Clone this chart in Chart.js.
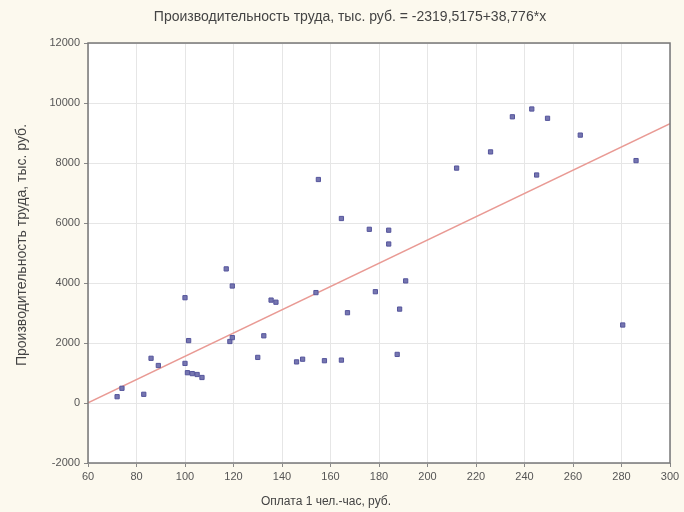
<!DOCTYPE html>
<html>
<head>
<meta charset="utf-8">
<script src="https://cdn.jsdelivr.net/npm/chart.js@4"></script>
<style>
  html, body { margin: 0; padding: 0; background: #fcf9ee; }
  #wrap { width: 684px; height: 512px; }
</style>
</head>
<body>
<div id="wrap"><canvas id="scatterChart" width="684" height="512"></canvas></div>
<script>
// Оплата 1 чел.-час, руб.
const payX = [72, 74, 83, 86, 89, 100, 101.5, 100, 101, 103, 105, 107,
    117, 119.5, 118.5, 119.5, 130, 132.5, 135.5, 137.5,
    146, 148.5, 154, 155, 157.5, 164.5, 164.5, 167, 176, 178.5, 184, 184, 187.5, 188.5, 191,
    212, 226, 235, 243, 245, 249.5, 263, 280.5, 286];
// Производительность труда, тыс. руб.
const prodY = [210, 490, 290, 1490, 1250, 3510, 2080, 1320, 1010, 980, 950, 850,
    4470, 3900, 2050, 2180, 1520, 2240, 3430, 3360,
    1370, 1460, 3680, 7450, 1410, 6150, 1430, 3010, 5790, 3710, 5760, 5300, 1620, 3130, 4070,
    7830, 8370, 9540, 9800, 7600, 9490, 8930, 2600, 8080];
const xTicks = [60, 80, 100, 120, 140, 160, 180, 200, 220, 240, 260, 280, 300];
const yTicks = [-2000, 0, 2000, 4000, 6000, 8000, 10000, 12000];
const intercept = -2319.5175;
const slope = 38.776;

const points = payX.map((x, i) => ({ x: x, y: prodY[i] }));
const fitLine = [xTicks[0], xTicks[xTicks.length - 1]].map(x => ({ x: x, y: intercept + slope * x }));

const fontFamily = '"Liberation Sans", Arial, sans-serif';

const bgPlugin = {
    id: 'bg',
    beforeDraw(chart) {
        const { ctx, chartArea: a } = chart;
        ctx.save();
        ctx.fillStyle = '#fcf9ee';
        ctx.fillRect(0, 0, chart.width, chart.height);
        ctx.fillStyle = '#ffffff';
        ctx.fillRect(a.left, a.top, a.right - a.left, a.bottom - a.top);
        ctx.fillStyle = '#444';
        ctx.textAlign = 'center';
        ctx.textBaseline = 'middle';
        ctx.font = '14px ' + fontFamily;
        ctx.fillText('Производительность труда, тыс. руб. = -2319,5175+38,776*x', 350, 17);
        ctx.font = '12px ' + fontFamily;
        ctx.fillText('Оплата 1 чел.-час, руб.', 326, 502);
        ctx.font = '14px ' + fontFamily;
        ctx.translate(22, 245);
        ctx.rotate(-Math.PI / 2);
        ctx.fillText('Производительность труда, тыс. руб.', 0, 0);
        ctx.restore();
    },
    afterDraw(chart) {
        const { ctx, chartArea: a } = chart;
        ctx.save();
        ctx.strokeStyle = '#777';
        ctx.lineWidth = 1.5;
        ctx.strokeRect(a.left, a.top, a.right - a.left, a.bottom - a.top);
        ctx.restore();
    }
};

const font = { family: fontFamily, size: 11 };

new Chart(document.getElementById('scatterChart'), {
    type: 'scatter',
    data: {
        datasets: [{
            data: fitLine,
            type: 'line',
            borderColor: '#e99a94',
            borderWidth: 1.5,
            pointRadius: 0,
            order: 2
        }, {
            data: points,
            pointStyle: 'rect',
            pointRadius: 3,
            backgroundColor: '#7676b0',
            borderColor: '#55559c',
            borderWidth: 1,
            order: 1
        }]
    },
    options: {
        responsive: false,
        animation: false,
        layout: { padding: { top: 43, right: 14, left: 0, bottom: 0 } },
        plugins: {
            legend: { display: false },
            tooltip: { enabled: false }
        },
        scales: {
            x: {
                type: 'linear',
                min: 60,
                max: 300,
                afterBuildTicks(scale) { scale.ticks = xTicks.map(v => ({ value: v })); },
                afterFit(scale) { scale.height = 49; },
                grid: { color: '#e6e6e6', tickLength: 4, tickColor: '#888' },
                border: { display: false },
                ticks: { color: '#555', font: font, padding: 3, maxRotation: 0, callback: v => String(v) }
            },
            y: {
                type: 'linear',
                min: -2000,
                max: 12000,
                afterBuildTicks(scale) { scale.ticks = yTicks.map(v => ({ value: v })); },
                afterFit(scale) { scale.width = 88; },
                grid: { color: '#e6e6e6', tickLength: 4, tickColor: '#888' },
                border: { display: false },
                ticks: { color: '#555', font: font, padding: 4, callback: v => String(v) }
            }
        }
    },
    plugins: [bgPlugin]
});
</script>
</body>
</html>
